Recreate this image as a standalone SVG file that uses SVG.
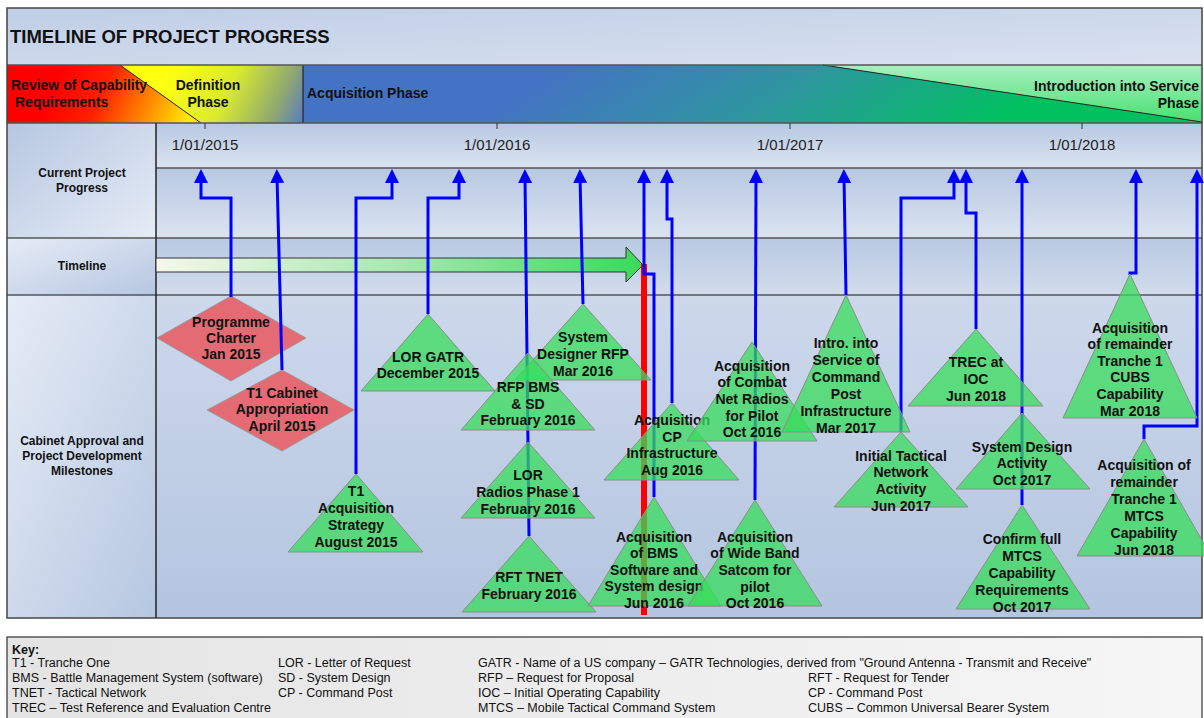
<svg xmlns="http://www.w3.org/2000/svg" width="1204" height="718" viewBox="0 0 1204 718">
  <defs>
    <style>
      text { font-family: "Liberation Sans", Arial, sans-serif; fill: #111; }
      .title { font-size: 18.5px; font-weight: bold; }
      .phase { font-size: 14px; font-weight: bold; }
      .rowlab { font-size: 12px; font-weight: bold; text-anchor: middle; }
      .date { font-size: 15px; text-anchor: middle; fill: #222; }
      .ms { font-size: 14px; font-weight: bold; text-anchor: middle; }
      .key { font-size: 12.5px; }
      .keyh { font-size: 12.5px; font-weight: bold; }
      .grid { stroke: #555; stroke-width: 1.5; fill: none; }
      .tri { fill: #37DC5B; fill-opacity: 0.75; stroke: #8C8C8C; stroke-width: 1; }
      .dia { fill: #E46A73; stroke: #9A9A9A; stroke-width: 1; }
      .conn { fill: none; stroke: #0000FF; stroke-width: 3; marker-end: url(#arrowUp); }
    </style>
    <marker id="arrowUp" markerUnits="userSpaceOnUse" markerWidth="14" markerHeight="14" refX="7" refY="7" orient="auto" viewBox="0 0 14 14">
      <path d="M0,0 L14,7 L0,14 z" fill="#0000FF"/>
    </marker>
    <linearGradient id="gTitle" x1="0" y1="0" x2="1" y2="1">
      <stop offset="0" stop-color="#BFCEE6"/>
      <stop offset="1" stop-color="#DAE2F0"/>
    </linearGradient>
    <linearGradient id="gReview" gradientUnits="userSpaceOnUse" x1="60" y1="70" x2="185" y2="125">
      <stop offset="0" stop-color="#FF0000"/>
      <stop offset="0.35" stop-color="#FF2000"/>
      <stop offset="0.7" stop-color="#FF8A00"/>
      <stop offset="1" stop-color="#FFE800"/>
    </linearGradient>
    <linearGradient id="gDef" gradientUnits="userSpaceOnUse" x1="170" y1="65" x2="300" y2="125">
      <stop offset="0" stop-color="#FFFF10"/>
      <stop offset="0.45" stop-color="#D8EA30"/>
      <stop offset="0.8" stop-color="#90A870"/>
      <stop offset="1" stop-color="#5A7EC0"/>
    </linearGradient>
    <linearGradient id="gAcq" gradientUnits="userSpaceOnUse" x1="600" y1="40" x2="760" y2="280">
      <stop offset="0" stop-color="#4472C4"/>
      <stop offset="0.5" stop-color="#2E96A0"/>
      <stop offset="1" stop-color="#00C060"/>
    </linearGradient>
    <linearGradient id="gIntro" x1="0" y1="0" x2="0" y2="1">
      <stop offset="0" stop-color="#A8F0C0"/>
      <stop offset="1" stop-color="#48E070"/>
    </linearGradient>
    <linearGradient id="gTopRows" x1="0" y1="0" x2="0" y2="1">
      <stop offset="0" stop-color="#B7C8E2"/>
      <stop offset="1" stop-color="#DBE3F0"/>
    </linearGradient>
    <linearGradient id="gTimeRow" x1="0" y1="0" x2="0" y2="1">
      <stop offset="0" stop-color="#B8C9E2"/>
      <stop offset="1" stop-color="#D2DCEC"/>
    </linearGradient>
    <linearGradient id="gMile" x1="0" y1="0" x2="0" y2="1">
      <stop offset="0" stop-color="#CDD8EB"/>
      <stop offset="1" stop-color="#B4C5E0"/>
    </linearGradient>
    <linearGradient id="gLeftA" x1="0" y1="0" x2="1" y2="1">
      <stop offset="0" stop-color="#B6C7E1"/>
      <stop offset="1" stop-color="#E6ECF6"/>
    </linearGradient>
    <linearGradient id="gLeftB" x1="0" y1="0" x2="1" y2="1">
      <stop offset="0" stop-color="#E6ECF6"/>
      <stop offset="1" stop-color="#B6C7E1"/>
    </linearGradient>
    <linearGradient id="gTimeline" gradientUnits="userSpaceOnUse" x1="156" y1="0" x2="643" y2="0">
      <stop offset="0" stop-color="#F5F8EA"/>
      <stop offset="0.5" stop-color="#A6E8B0"/>
      <stop offset="1" stop-color="#38DA5A"/>
    </linearGradient>
    <linearGradient id="gKey" x1="0" y1="0" x2="1" y2="0">
      <stop offset="0" stop-color="#E4E4E4"/>
      <stop offset="1" stop-color="#F6F6F6"/>
    </linearGradient>
  </defs>

  <!-- title band -->
  <rect x="7" y="8" width="1195" height="57" fill="url(#gTitle)"/>
  <text class="title" x="10" y="43">TIMELINE OF PROJECT PROGRESS</text>

  <!-- phase band -->
  <g id="phases">
    <rect x="303" y="65" width="899" height="58" fill="url(#gAcq)"/>
    <polygon points="823,65 1202,65 1202,122" fill="url(#gIntro)"/>
    <line x1="823" y1="65" x2="1202" y2="122" stroke="#222" stroke-width="1"/>
    <polygon points="120,65 303,65 303,123 201,123" fill="url(#gDef)"/>
    <polygon points="7,65 120,65 201,123 7,123" fill="url(#gReview)"/>
    <line x1="120" y1="65" x2="201" y2="123" stroke="#222" stroke-width="1"/>
    <line x1="303" y1="65" x2="303" y2="123" stroke="#222" stroke-width="1.2"/>
    <text class="phase" x="11" y="90">Review of Capability</text>
    <text class="phase" x="15" y="107">Requirements</text>
    <text class="phase" x="208" y="90" text-anchor="middle">Definition</text>
    <text class="phase" x="208" y="107" text-anchor="middle">Phase</text>
    <text class="phase" x="307" y="98">Acquisition Phase</text>
    <text class="phase" x="1199" y="91" text-anchor="end">Introduction into Service</text>
    <text class="phase" x="1199" y="108" text-anchor="end">Phase</text>
  </g>

  <!-- grid cells -->
  <g id="grid">
    <rect x="7" y="123" width="149" height="115" fill="url(#gLeftA)"/>
    <rect x="7" y="238" width="149" height="57" fill="url(#gLeftB)"/>
    <rect x="7" y="295" width="149" height="323" fill="url(#gLeftB)"/>
    <rect x="156" y="123" width="1046" height="45" fill="url(#gTopRows)"/>
    <rect x="156" y="168" width="1046" height="70" fill="url(#gTopRows)"/>
    <rect x="156" y="238" width="1046" height="57" fill="url(#gTimeRow)"/>
    <rect x="156" y="295" width="1046" height="323" fill="url(#gMile)"/>
    <line class="grid" x1="7" y1="65" x2="1202" y2="65" stroke="#222"/>
    <line class="grid" x1="7" y1="123" x2="1202" y2="123" stroke="#222"/>
    <line class="grid" x1="156" y1="168" x2="1202" y2="168"/>
    <line class="grid" x1="7" y1="238" x2="1202" y2="238"/>
    <line class="grid" x1="7" y1="295" x2="1202" y2="295"/>
    <line x1="156" y1="123" x2="156" y2="618" stroke="#222" stroke-width="1.5"/>
    <rect x="7" y="8" width="1195" height="610" fill="none" stroke="#444" stroke-width="1.5"/>
    <!-- year ticks -->
    <path d="M205,123 V129 M497,123 V129 M790,123 V129 M1082,123 V129" stroke="#333" stroke-width="1"/>
    <text class="date" x="205" y="150">1/01/2015</text>
    <text class="date" x="497" y="150">1/01/2016</text>
    <text class="date" x="790" y="150">1/01/2017</text>
    <text class="date" x="1082" y="150">1/01/2018</text>
    <text class="rowlab" x="82" y="177">Current Project</text>
    <text class="rowlab" x="82" y="192">Progress</text>
    <text class="rowlab" x="82" y="270">Timeline</text>
    <text class="rowlab" x="82" y="445">Cabinet Approval and</text>
    <text class="rowlab" x="82" y="460">Project Development</text>
    <text class="rowlab" x="82" y="475">Milestones</text>
  </g>

  <!-- elapsed timeline and current-date marker -->
  <g id="timeline">
    <polygon points="156,258 626,258 626,247 643,265 626,282 626,272 156,272" fill="url(#gTimeline)" stroke="#333" stroke-width="1"/>
    <rect x="641" y="264" width="6" height="351" fill="#FF0000"/>
  </g>

  <!-- approval milestones (diamonds) -->
  <g id="programme-charter">
    <polygon class="dia" points="231,296 306,338 231,381 157,338"/>
    <text class="ms" x="231" y="327">Programme</text>
    <text class="ms" x="231" y="343">Charter</text>
    <text class="ms" x="231" y="359">Jan 2015</text>
  </g>
  <g id="t1-cabinet-appropriation">
    <polygon class="dia" points="282,370 354,410 282,451 207,410"/>
    <text class="ms" x="282" y="398">T1 Cabinet</text>
    <text class="ms" x="282" y="414">Appropriation</text>
    <text class="ms" x="282" y="431">April 2015</text>
  </g>

  <!-- progress connectors -->
  <g id="connectors">
    <path class="conn" d="M231,297 V198 H201 V176"/>
    <path class="conn" d="M282,370 L277,176"/>
    <path class="conn" d="M356,474 V198 H392 V176"/>
    <path class="conn" d="M428,314 V198 H459 V176"/>
    <path class="conn" d="M529,536 L525,176"/>
    <path class="conn" d="M583,304 L580,176"/>
    <path class="conn" d="M654,497 V274 H644 V176"/>
    <path class="conn" d="M672,403 V219 H667 V176"/>
    <path class="conn" d="M755,500 L756,176"/>
    <path class="conn" d="M846,295 L844,176"/>
    <path class="conn" d="M901,432 V198 H954 V176"/>
    <path class="conn" d="M976,329 V213 H966 V176"/>
    <path class="conn" d="M1022,505 V176"/>
    <path class="conn" d="M1130,275 V273 H1136 V176"/>
    <path class="conn" d="M1144,439 V426 H1197 V176"/>
  </g>

  <!-- development milestones (triangles) -->
  <g id="t1-acquisition-strategy">
    <polygon class="tri" points="356,474 423,552 288,552"/>
    <text class="ms" x="356" y="496">T1</text>
    <text class="ms" x="356" y="513">Acquisition</text>
    <text class="ms" x="356" y="530">Strategy</text>
    <text class="ms" x="356" y="547">August 2015</text>
  </g>
  <g id="lor-gatr">
    <polygon class="tri" points="428,314 495,391 361,391"/>
    <text class="ms" x="428" y="362">LOR GATR</text>
    <text class="ms" x="428" y="378">December 2015</text>
  </g>
  <g id="system-designer-rfp">
    <polygon class="tri" points="583,304 651,380 515,380"/>
    <text class="ms" x="583" y="342">System</text>
    <text class="ms" x="583" y="359">Designer RFP</text>
    <text class="ms" x="583" y="376">Mar 2016</text>
  </g>
  <g id="rfp-bms-sd">
    <polygon class="tri" points="528,353 595,430 461,430"/>
    <text class="ms" x="528" y="392">RFP BMS</text>
    <text class="ms" x="528" y="409">&amp; SD</text>
    <text class="ms" x="528" y="425">February 2016</text>
  </g>
  <g id="lor-radios-phase-1">
    <polygon class="tri" points="528,442 595,518 461,518"/>
    <text class="ms" x="528" y="480">LOR</text>
    <text class="ms" x="528" y="497">Radios Phase 1</text>
    <text class="ms" x="528" y="514">February 2016</text>
  </g>
  <g id="rft-tnet">
    <polygon class="tri" points="529,536 596,612 462,612"/>
    <text class="ms" x="529" y="582">RFT TNET</text>
    <text class="ms" x="529" y="599">February 2016</text>
  </g>
  <g id="acq-cp-infrastructure">
    <polygon class="tri" points="672,403 739,480 604,480"/>
    <text class="ms" x="672" y="425">Acquisition</text>
    <text class="ms" x="672" y="442">CP</text>
    <text class="ms" x="672" y="458">Infrastructure</text>
    <text class="ms" x="672" y="475">Aug 2016</text>
  </g>
  <g id="acq-bms-software">
    <polygon class="tri" points="654,497 721,606 588,606"/>
    <text class="ms" x="654" y="542">Acquisition</text>
    <text class="ms" x="654" y="558">of BMS</text>
    <text class="ms" x="654" y="575">Software and</text>
    <text class="ms" x="654" y="591">System design</text>
    <text class="ms" x="654" y="608">Jun 2016</text>
  </g>
  <g id="acq-combat-net-radios">
    <polygon class="tri" points="752,342 817,441 687,441"/>
    <text class="ms" x="752" y="371">Acquisition</text>
    <text class="ms" x="752" y="387">of Combat</text>
    <text class="ms" x="752" y="404">Net Radios</text>
    <text class="ms" x="752" y="421">for Pilot</text>
    <text class="ms" x="752" y="437">Oct 2016</text>
  </g>
  <g id="acq-wide-band-satcom">
    <polygon class="tri" points="755,500 822,606 688,606"/>
    <text class="ms" x="755" y="542">Acquisition</text>
    <text class="ms" x="755" y="558">of Wide Band</text>
    <text class="ms" x="755" y="575">Satcom for</text>
    <text class="ms" x="755" y="592">pilot</text>
    <text class="ms" x="755" y="608">Oct 2016</text>
  </g>
  <g id="intro-cp-infrastructure">
    <polygon class="tri" points="846,295 910,432 782,432"/>
    <text class="ms" x="846" y="348">Intro. into</text>
    <text class="ms" x="846" y="365">Service of</text>
    <text class="ms" x="846" y="382">Command</text>
    <text class="ms" x="846" y="399">Post</text>
    <text class="ms" x="846" y="416">Infrastructure</text>
    <text class="ms" x="846" y="433">Mar 2017</text>
  </g>
  <g id="initial-tactical-network">
    <polygon class="tri" points="901,432 968,507 834,507"/>
    <text class="ms" x="901" y="461">Initial Tactical</text>
    <text class="ms" x="901" y="477">Network</text>
    <text class="ms" x="901" y="494">Activity</text>
    <text class="ms" x="901" y="511">Jun 2017</text>
  </g>
  <g id="trec-at-ioc">
    <polygon class="tri" points="976,329 1043,406 908,406"/>
    <text class="ms" x="976" y="367">TREC at</text>
    <text class="ms" x="976" y="384">IOC</text>
    <text class="ms" x="976" y="401">Jun 2018</text>
  </g>
  <g id="system-design-activity">
    <polygon class="tri" points="1022,413 1090,489 956,489"/>
    <text class="ms" x="1022" y="452">System Design</text>
    <text class="ms" x="1022" y="468">Activity</text>
    <text class="ms" x="1022" y="485">Oct 2017</text>
  </g>
  <g id="confirm-mtcs-requirements">
    <polygon class="tri" points="1022,505 1090,609 956,609"/>
    <text class="ms" x="1022" y="544">Confirm full</text>
    <text class="ms" x="1022" y="561">MTCS</text>
    <text class="ms" x="1022" y="578">Capability</text>
    <text class="ms" x="1022" y="595">Requirements</text>
    <text class="ms" x="1022" y="612">Oct 2017</text>
  </g>
  <g id="acq-cubs">
    <polygon class="tri" points="1130,274 1197,418 1063,418"/>
    <text class="ms" x="1130" y="333">Acquisition</text>
    <text class="ms" x="1130" y="349">of remainder</text>
    <text class="ms" x="1130" y="366">Tranche 1</text>
    <text class="ms" x="1130" y="382">CUBS</text>
    <text class="ms" x="1130" y="399">Capability</text>
    <text class="ms" x="1130" y="416">Mar 2018</text>
  </g>
  <g id="acq-mtcs">
    <polygon class="tri" points="1144,439 1211,556 1077,556"/>
    <text class="ms" x="1144" y="470">Acquisition of</text>
    <text class="ms" x="1144" y="487">remainder</text>
    <text class="ms" x="1144" y="504">Tranche 1</text>
    <text class="ms" x="1144" y="521">MTCS</text>
    <text class="ms" x="1144" y="538">Capability</text>
    <text class="ms" x="1144" y="555">Jun 2018</text>
  </g>

  <!-- abbreviation key -->
  <g id="key">
    <rect x="7" y="637" width="1195" height="90" fill="url(#gKey)" stroke="#333" stroke-width="1.2"/>
    <text class="keyh" x="12" y="654">Key:</text>
    <text class="key" x="12" y="667">T1 - Tranche One</text>
    <text class="key" x="12" y="682">BMS - Battle Management System (software)</text>
    <text class="key" x="12" y="697">TNET - Tactical Network</text>
    <text class="key" x="12" y="712">TREC – Test Reference and Evaluation Centre</text>
    <text class="key" x="278" y="667">LOR - Letter of Request</text>
    <text class="key" x="278" y="682">SD - System Design</text>
    <text class="key" x="278" y="697">CP - Command Post</text>
    <text class="key" x="478" y="667">GATR - Name of a US company – GATR Technologies, derived from "Ground Antenna - Transmit and Receive"</text>
    <text class="key" x="478" y="682">RFP – Request for Proposal</text>
    <text class="key" x="478" y="697">IOC – Initial Operating Capability</text>
    <text class="key" x="478" y="712">MTCS – Mobile Tactical Command System</text>
    <text class="key" x="808" y="682">RFT - Request for Tender</text>
    <text class="key" x="808" y="697">CP - Command Post</text>
    <text class="key" x="808" y="712">CUBS – Common Universal Bearer System</text>
  </g>
</svg>
